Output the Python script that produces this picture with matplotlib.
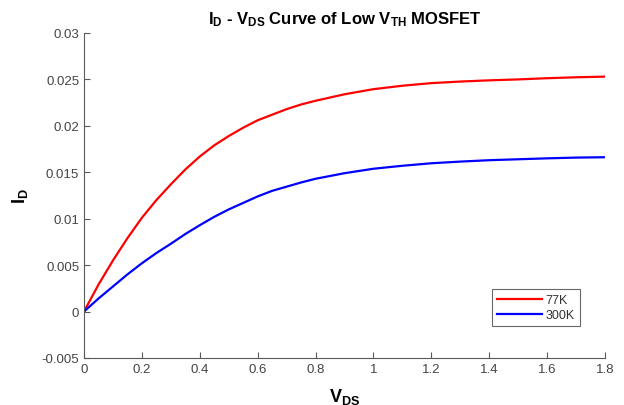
import numpy as np
import matplotlib
matplotlib.use('Agg')
import matplotlib.pyplot as plt

plt.rcParams['font.family'] = ['Liberation Sans', 'DejaVu Sans']
plt.rcParams['mathtext.fontset'] = 'custom'
plt.rcParams['mathtext.rm'] = 'Liberation Sans'
plt.rcParams['mathtext.bf'] = 'Liberation Sans:bold'

# values
vds = [0.0, 0.05, 0.1, 0.15, 0.2, 0.25, 0.3, 0.35, 0.4, 0.45, 0.5, 0.55, 0.6, 0.65, 0.7, 0.75,
       0.8, 0.9, 1.0, 1.1, 1.2, 1.3, 1.4, 1.5, 1.6, 1.7, 1.8]
id_77k = [0.0, 0.0029, 0.0055, 0.0079, 0.0101, 0.0120, 0.0137, 0.0153, 0.0167, 0.0179,
          0.0189, 0.0198, 0.0206, 0.0212, 0.0218, 0.0223,
          0.0227, 0.0234, 0.02395, 0.02432, 0.0246, 0.02477, 0.0249, 0.0250, 0.02513, 0.02523, 0.0253]
id_300k = [0.0, 0.0014, 0.0027, 0.0040, 0.0052, 0.0063, 0.0073, 0.00835, 0.0093, 0.0102,
           0.0110, 0.0117, 0.0124, 0.0130, 0.01345, 0.0139,
           0.0143, 0.0149, 0.01538, 0.0157, 0.01597, 0.01615, 0.0163, 0.0164, 0.0165, 0.01658, 0.01662]
legend_names = ['77K', '300K']

fig = plt.figure(figsize=(6.24, 4.06), dpi=100)
ax = fig.add_axes([0.1346, 0.1158, 0.835, 0.8005])

ax.plot(vds, id_77k, color='#ff0000', lw=1.6, label=legend_names[0])
ax.plot(vds, id_300k, color='#0000ff', lw=1.6, label=legend_names[1])

ax.set_xlim(0, 1.8)
ax.set_ylim(-0.005, 0.03)
ax.set_xticks(np.arange(0, 1.81, 0.2))
ax.set_xticklabels(['0', '0.2', '0.4', '0.6', '0.8', '1', '1.2', '1.4', '1.6', '1.8'])
ax.set_yticks([-0.005, 0, 0.005, 0.01, 0.015, 0.02, 0.025, 0.03])
ax.set_yticklabels(['-0.005', '0', '0.005', '0.01', '0.015', '0.02', '0.025', '0.03'])

for s in ['top', 'right']:
    ax.spines[s].set_visible(False)
for s in ['left', 'bottom']:
    ax.spines[s].set_color('#5a5a5a')
    ax.spines[s].set_linewidth(0.8)
ax.tick_params(direction='in', length=4, width=0.8, colors='#5a5a5a',
               labelcolor='#444444', labelsize=9.5)

ax.set_title(r'$\mathbf{I_D}$ - $\mathbf{V_{DS}}$ Curve of Low $\mathbf{V_{TH}}$ MOSFET',
             fontsize=12, fontweight='bold', color='black', pad=7)
ax.set_xlabel(r'$\mathbf{V_{DS}}$', fontsize=13, color='black', labelpad=8)
ax.set_ylabel(r'$\mathbf{I_D}$', fontsize=13, color='black', labelpad=8)

leg = ax.legend(loc='upper left', bbox_to_anchor=(0.783, 0.212), fontsize=9,
                fancybox=False, handlelength=3.6, borderpad=0.4, labelspacing=0.25,
                handletextpad=0.3, borderaxespad=0)
leg.get_frame().set_edgecolor('#444444')
leg.get_frame().set_linewidth(0.8)
for t in leg.get_texts():
    t.set_color('#333333')

fig.savefig('out.png', dpi=100)
